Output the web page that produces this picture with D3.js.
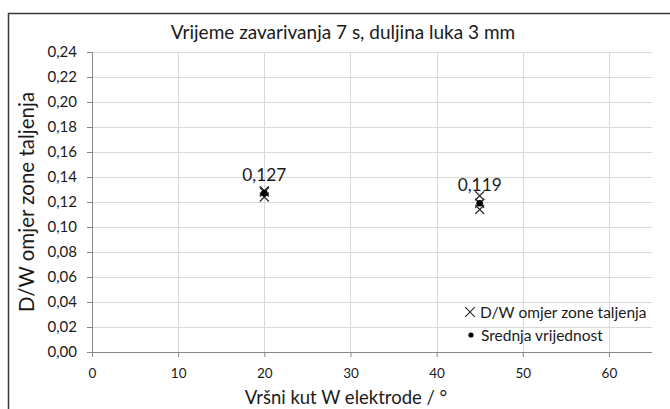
<!DOCTYPE html>
<html>
<head>
<meta charset="utf-8">
<script src="https://cdn.jsdelivr.net/npm/d3@7"></script>
<style>
  html, body { margin: 0; padding: 0; background: #fff; }
  svg { display: block; font-family: Lato, "Open Sans", sans-serif; }
</style>
</head>
<body>
<svg id="chart" width="670" height="409"></svg>
<script>
// Tip angle of the W electrode (°) for each measurement group
const angles = [20, 45];
// Individual D/W ratio measurements per angle
const measurements20 = [0.129, 0.128, 0.124];
const measurements45 = [0.125, 0.119, 0.114];
// Mean value per angle (also printed as label)
const means = [0.127, 0.119];
const meanLabels = ["0,127", "0,119"];
// Axis ticks
const xTicks = [0, 10, 20, 30, 40, 50, 60];
const yTicks = [0, 0.02, 0.04, 0.06, 0.08, 0.10, 0.12, 0.14, 0.16, 0.18, 0.20, 0.22, 0.24];

const titleText = "Vrijeme zavarivanja 7 s, duljina luka 3 mm";
const xTitle = "Vršni kut W elektrode / °";
const yTitle = "D/W omjer zone taljenja";
const legendCross = "D/W omjer zone taljenja";
const legendDot = "Srednja vrijednost";

const svg = d3.select("#chart");
const m = { left: 92, right: 652, top: 52, bottom: 352 };

const x = d3.scaleLinear().domain([0, 65]).range([m.left, m.right]);
const y = d3.scaleLinear().domain([0, 0.24]).range([m.bottom, m.top]);
const fmt = d => d.toFixed(2).replace(".", ",");
const ink = "#1a1a1a";

// outer chart frame (runs past the right and bottom edges)
svg.append("rect")
  .attr("x", 8.5).attr("y", 13.5)
  .attr("width", 700).attr("height", 420)
  .attr("fill", "#fff").attr("stroke", "#3a3a3a").attr("stroke-width", 1.5);

// gridlines
svg.append("g").selectAll("line").data(yTicks.slice(1)).join("line")
  .attr("x1", m.left).attr("x2", m.right)
  .attr("y1", d => Math.round(y(d)) + 0.5).attr("y2", d => Math.round(y(d)) + 0.5)
  .attr("stroke", "#d9d9d9").attr("stroke-width", 1);
svg.append("g").selectAll("line").data(xTicks.slice(1)).join("line")
  .attr("y1", m.top).attr("y2", m.bottom)
  .attr("x1", d => Math.round(x(d)) + 0.5).attr("x2", d => Math.round(x(d)) + 0.5)
  .attr("stroke", "#d9d9d9").attr("stroke-width", 1);

// axes
const xAxis = svg.append("g")
  .attr("transform", `translate(0,${m.bottom})`)
  .call(d3.axisBottom(x).tickValues(xTicks).tickSize(5).tickPadding(11).tickFormat(d3.format("d")));
const yAxis = svg.append("g")
  .attr("transform", `translate(${m.left},0)`)
  .call(d3.axisLeft(y).tickValues(yTicks).tickSize(5).tickPadding(10).tickFormat(fmt));
[xAxis, yAxis].forEach(g => {
  g.select(".domain").attr("stroke", "#868686");
  g.selectAll(".tick line").attr("stroke", "#868686");
  g.selectAll(".tick text").attr("fill", ink)
    .style("font-family", "Lato, 'Open Sans', sans-serif");
});
xAxis.selectAll(".tick text").style("font-size", "13.5px");
yAxis.selectAll(".tick text").style("font-size", "15px");
xAxis.select(".domain").attr("d", `M${m.left - 5},0.5H${m.right}`);
yAxis.select(".domain").attr("d", `M0.5,${m.top}V${m.bottom + 5}`);

// title and axis titles
svg.append("text").attr("x", 343).attr("y", 39).attr("text-anchor", "middle")
  .style("font-size", "19px").attr("fill", ink).text(titleText);
svg.append("text").attr("x", 346).attr("y", 404).attr("text-anchor", "middle")
  .style("font-size", "18.5px").attr("fill", ink).text(xTitle);
svg.append("text")
  .attr("transform", `translate(34,${(m.top + m.bottom) / 2}) rotate(-90)`)
  .attr("text-anchor", "middle")
  .style("font-size", "20.5px").attr("fill", ink).text(yTitle);

// cross marker path
const cross = s => `M${-s},${-s}L${s},${s}M${-s},${s}L${s},${-s}`;

// individual measurements
const groups = [measurements20, measurements45];
const pts = groups.flatMap((vals, i) => vals.map(v => ({ a: angles[i], v })));
svg.append("g").selectAll("path").data(pts).join("path")
  .attr("transform", d => `translate(${x(d.a)},${y(d.v)})`)
  .attr("d", cross(4.5))
  .attr("stroke", "#262626").attr("stroke-width", 1.1).attr("fill", "none");

// means
svg.append("g").selectAll("circle").data(means).join("circle")
  .attr("cx", (d, i) => x(angles[i])).attr("cy", d => y(d))
  .attr("r", 3.3).attr("fill", "#000");

// mean labels
svg.append("g").selectAll("text").data(means).join("text")
  .attr("x", (d, i) => x(angles[i])).attr("y", d => y(d) - 12)
  .attr("text-anchor", "middle")
  .style("font-size", "17.3px").attr("fill", ink)
  .text((d, i) => meanLabels[i]);

// legend
const lg = svg.append("g");
lg.append("path").attr("transform", "translate(470,312)").attr("d", cross(4.8))
  .attr("stroke", "#262626").attr("stroke-width", 1.1).attr("fill", "none");
lg.append("text").attr("x", 480).attr("y", 317.5).style("font-size", "15.5px")
  .attr("fill", ink).text(legendCross);
lg.append("circle").attr("cx", 471).attr("cy", 335).attr("r", 2.6).attr("fill", "#000");
lg.append("text").attr("x", 481).attr("y", 340.5).style("font-size", "15.5px")
  .attr("fill", ink).text(legendDot);
</script>
</body>
</html>
